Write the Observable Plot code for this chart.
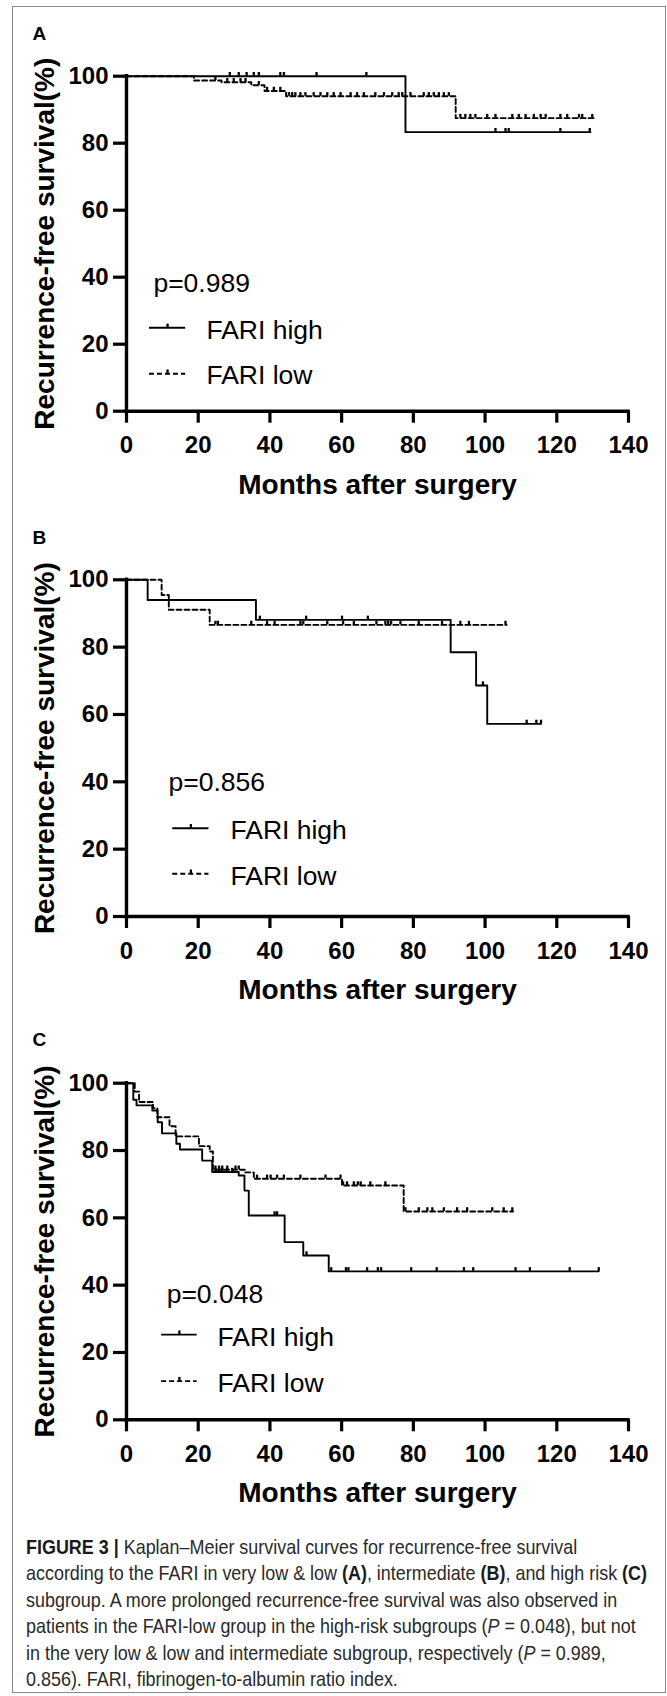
<!DOCTYPE html>
<html>
<head>
<meta charset="utf-8">
<script src="https://cdn.jsdelivr.net/npm/d3@7"></script>
<script src="https://cdn.jsdelivr.net/npm/@observablehq/plot@0.6"></script>
<style>
  body { margin: 0; background: #fff; }
  #wrap { position: relative; width: 667px; height: 1696px; overflow: hidden; }
  #border { position: absolute; left: 12px; top: 6px; width: 654px; height: 1687px;
            border: 1.5px solid #8a8a8a; box-sizing: border-box; }
  .panel { position: absolute; left: 0; }
  #caption { position: absolute; left: 26px; top: 1534px;
             font-family: "Liberation Sans Narrow", "Arial Narrow", "Liberation Sans", Arial, sans-serif;
             font-size: 21px; line-height: 26.4px; color: #2a2a2a; white-space: nowrap;
             transform-origin: 0 0; }
  #caption b { font-weight: bold; color: #1a1a1a; }
</style>
</head>
<body>
<div id="wrap">
  <div id="border"></div>
  <div id="pA" class="panel" style="top:0px"></div>
  <div id="pB" class="panel" style="top:515px"></div>
  <div id="pC" class="panel" style="top:1020px"></div>
  <div id="caption">
    <div><span><b>FIGURE 3 |</b> Kaplan–Meier survival curves for recurrence-free survival</span></div>
    <div><span id="capline2">according to the FARI in very low &amp; low <b>(A)</b>, intermediate <b>(B)</b>, and high risk <b>(C)</b></span></div>
    <div><span>subgroup. A more prolonged recurrence-free survival was also observed in</span></div>
    <div><span>patients in the FARI-low group in the high-risk subgroups (<i>P</i> = 0.048), but not</span></div>
    <div><span>in the very low &amp; low and intermediate subgroup, respectively (<i>P</i> = 0.989,</span></div>
    <div><span>0.856). FARI, fibrinogen-to-albumin ratio index.</span></div>
  </div>
</div>
<script>
// ---------- Data ----------
const xTicks = [0, 20, 40, 60, 80, 100, 120, 140];
const yTicks = [0, 20, 40, 60, 80, 100];
const xTitle = "Months after surgery";
const yTitle = "Recurrence-free survival(%)";
const seriesNames = ["FARI high", "FARI low"];

// Panel A: very low & low
const aHighTimes = [0, 77.8, 129.4];
const aHighSurv  = [100, 83.3, 83.3];
const aHighCens  = [28.8, 31.3, 33.5, 35.5, 36.9, 42.9, 43.9, 53.0, 66.9, 102.9, 105.7, 106.6, 121.0, 129.2];
const aLowTimes  = [0, 18.8, 26.5, 34.8, 38.5, 44.5, 91.8, 130.3];
const aLowSurv   = [100, 98.7, 98.2, 97.3, 95.6, 94.0, 87.5, 87.5];
const aLowCens   = [24.8, 28.1, 29.9, 31.8, 33.2, 36.9, 39.2, 41.1, 42.9,
                    45.3, 46.2, 47.1, 48.5, 49.9, 52.2, 54.1, 56.0, 57.8, 59.7, 62.5, 64.3, 66.2, 69.4, 71.8,
                    74.1, 75.9, 76.9, 79.2, 82.9, 84.3, 85.7, 87.1, 88.5, 89.9,
                    93.1, 94.5, 95.9, 97.3, 100.6, 102.9, 107.6, 109.4, 111.3, 113.6, 115.5, 116.9,
                    121.0, 122.9, 126.2, 127.1, 129.9];
const aPValue = "p=0.989";

// Panel B: intermediate
const bHighTimes = [0, 5.9, 36.1, 90.4, 97.5, 100.6, 115.6];
const bHighSurv  = [100, 94.0, 88.1, 78.5, 68.6, 57.2, 57.2];
const bHighCens  = [37.2, 50.1, 60.1, 67.3, 99.4, 111.6, 114.3, 115.6];
const bLowTimes  = [0, 9.8, 11.8, 23.2, 106.0];
const bLowSurv   = [100, 95.5, 91.1, 86.6, 86.6];
const bLowCens   = [24.8, 25.5, 34.8, 39.2, 41.3, 48.5, 49.3, 56.0, 60.4, 63.4, 69.7, 72.2, 73.0, 73.8,
                    76.4, 81.5, 88.0, 93.1, 95.5, 105.7];
const bPValue = "p=0.856";

// Panel C: high risk
const cHighTimes = [0, 1.9, 2.8, 7.2, 8.7, 9.9, 13.9, 14.9, 21.1, 23.9, 31.3, 32.9, 34.1, 44.1, 49.3, 56.4, 131.7];
const cHighSurv  = [100, 95.1, 93.4, 91.9, 88.4, 85.1, 82.0, 80.3, 77.0, 73.6, 72.6, 68.1, 60.7, 52.8, 48.8, 44.1, 44.1];
const cHighCens  = [24.8, 25.8, 26.7, 28.1, 29.5, 41.3, 42.0, 50.2, 57.1, 61.2, 61.9, 67.1, 70.1, 71.0,
                    79.4, 86.5, 94.1, 96.7, 108.5, 112.5, 123.6, 131.7];
const cLowTimes  = [0, 2.3, 3.5, 7.4, 8.6, 12.0, 13.7, 20.2, 23.2, 24.1, 33.0, 35.5, 60.1, 77.3, 107.8];
const cLowSurv   = [100, 97.5, 94.4, 92.6, 89.9, 87.2, 84.2, 81.3, 79.7, 74.3, 73.5, 71.6, 69.6, 61.9, 61.9];
const cLowCens   = [24.8, 25.8, 26.7, 28.1, 30.4, 31.3, 36.4, 39.2, 40.2, 42.0, 43.9, 48.5, 55.5, 59.7,
                    60.4, 61.5, 63.4, 64.5, 65.3, 68.0, 72.2, 77.8, 81.5, 83.9, 85.3, 88.5, 92.2, 95.0,
                    102.0, 105.2, 107.6];
const cPValue = "p=0.048";

// ---------- Rendering ----------
const FONT = "'Liberation Sans', Arial, Helvetica, sans-serif";
const DASH = "5,3";

function survAt(times, surv, t) {
  let s = surv[0];
  for (let i = 0; i < times.length; i++) if (times[i] <= t) s = surv[i];
  return s;
}

function panel(cfg) {
  const high = cfg.highT.map((t, i) => ({t, s: cfg.highS[i]}));
  const low = cfg.lowT.map((t, i) => ({t, s: cfg.lowS[i]}));
  const hc = cfg.highC.map(t => ({t, s: survAt(cfg.highT, cfg.highS, t)}));
  const lc = cfg.lowC.map(t => ({t, s: survAt(cfg.lowT, cfg.lowS, t)}));
  const lg = cfg.lg;
  const legendRows = [
    {name: seriesNames[0], y: lg.highLine, yt: lg.highText},
    {name: seriesNames[1], y: lg.lowLine, yt: lg.lowText}
  ];
  const lw = 1.9;
  const tw = 2.3;
  return Plot.plot({
    width: 667,
    height: cfg.height,
    marginLeft: 126,
    marginRight: 39,
    marginTop: cfg.mt,
    marginBottom: cfg.mb,
    x: {domain: [0, 140]},
    y: {domain: [0, 100]},
    style: {fontFamily: FONT, overflow: "visible", background: "transparent", color: "#000"},
    marks: [
      Plot.axisY({ticks: yTicks, tickSize: 13, tickPadding: 5, fontSize: 24, fontWeight: "bold",
                  strokeWidth: 3.2, label: null}),
      Plot.axisX({ticks: xTicks, tickSize: 12, tickPadding: 13, fontSize: 24, fontWeight: "bold",
                  strokeWidth: 3.2, label: null}),
      Plot.ruleX([0], {strokeWidth: 3.4, strokeLinecap: "square"}),
      Plot.ruleY([0], {strokeWidth: 3.4, strokeLinecap: "square"}),
      Plot.line(low, {x: "t", y: "s", curve: "step-after", stroke: "#000", strokeWidth: lw, strokeDasharray: DASH}),
      Plot.line(high, {x: "t", y: "s", curve: "step-after", stroke: "#000", strokeWidth: lw}),
      Plot.ruleX(lc, {x: "t", y1: "s", y2: d => d.s + 1.1, stroke: "#000", strokeWidth: tw}),
      Plot.ruleX(hc, {x: "t", y1: "s", y2: d => d.s + 1.1, stroke: "#000", strokeWidth: tw}),
      // p value
      Plot.text([cfg.p], {x: () => lg.px, y: () => lg.py, text: d => d, textAnchor: "start",
                          lineAnchor: "bottom", fontSize: 26.5}),
      // legend: solid sample for high, dashed sample for low
      Plot.ruleY([legendRows[0]], {x1: () => lg.x1, x2: () => lg.x2, y: "y", stroke: "#000", strokeWidth: lw}),
      Plot.ruleY([legendRows[1]], {x1: () => lg.x1, x2: () => lg.x2, y: "y", stroke: "#000",
                                   strokeWidth: lw, strokeDasharray: DASH}),
      Plot.ruleX(legendRows, {x: () => (lg.x1 + lg.x2) / 2, y1: "y", y2: d => d.y + 1.1,
                              stroke: "#000", strokeWidth: tw}),
      Plot.text(legendRows, {x: () => lg.tx, y: "yt", text: "name", textAnchor: "start",
                             lineAnchor: "bottom", fontSize: 26.5}),
      // titles
      Plot.text([cfg.letter], {frameAnchor: "top-left", text: d => d, dx: -94, dy: cfg.letterDy,
                               textAnchor: "start", lineAnchor: "bottom", fontSize: 19, fontWeight: "bold"}),
      Plot.text([yTitle], {frameAnchor: "left", text: d => d, rotate: -90, dx: -73,
                           textAnchor: "middle", lineAnchor: "bottom", fontSize: 28, fontWeight: "bold"}),
      Plot.text([xTitle], {frameAnchor: "bottom", text: d => d, dy: 82.5,
                           textAnchor: "middle", lineAnchor: "bottom", fontSize: 28, fontWeight: "bold"})
    ]
  });
}

document.getElementById("pA").append(panel({
  height: 515, mt: 75.7, mb: 104.3, letter: "A", letterDy: -35.7, p: aPValue,
  highT: aHighTimes, highS: aHighSurv, highC: aHighCens,
  lowT: aLowTimes, lowS: aLowSurv, lowC: aLowCens,
  lg: {px: 7.5, py: 35.6, x1: 6.4, x2: 16.5, tx: 22.3, highLine: 24.9, highText: 21.6, lowLine: 11.2, lowText: 8.2}
}));
document.getElementById("pB").append(panel({
  height: 505, mt: 64.3, mb: 104, letter: "B", letterDy: -36, p: bPValue,
  highT: bHighTimes, highS: bHighSurv, highC: bHighCens,
  lowT: bLowTimes, lowS: bLowSurv, lowC: bLowCens,
  lg: {px: 11.7, py: 37.4, x1: 12.9, x2: 23.0, tx: 29.0, highLine: 26.2, highText: 23.1, lowLine: 12.7, lowText: 9.4}
}));
document.getElementById("pC").append(panel({
  height: 505, mt: 62.7, mb: 105.7, letter: "C", letterDy: -37.7, p: cPValue,
  highT: cHighTimes, highS: cHighSurv, highC: cHighCens,
  lowT: cLowTimes, lowS: cLowSurv, lowC: cLowCens,
  lg: {px: 11.2, py: 34.6, x1: 9.8, x2: 19.7, tx: 25.4, highLine: 25.3, highText: 21.8, lowLine: 11.5, lowText: 8.2}
}));

// fit caption width to the reference line length
const cap = document.getElementById("caption");
const w2 = document.getElementById("capline2").getBoundingClientRect().width;
if (w2 > 0) cap.style.transform = `scaleX(${621 / w2})`;
</script>
</body>
</html>
